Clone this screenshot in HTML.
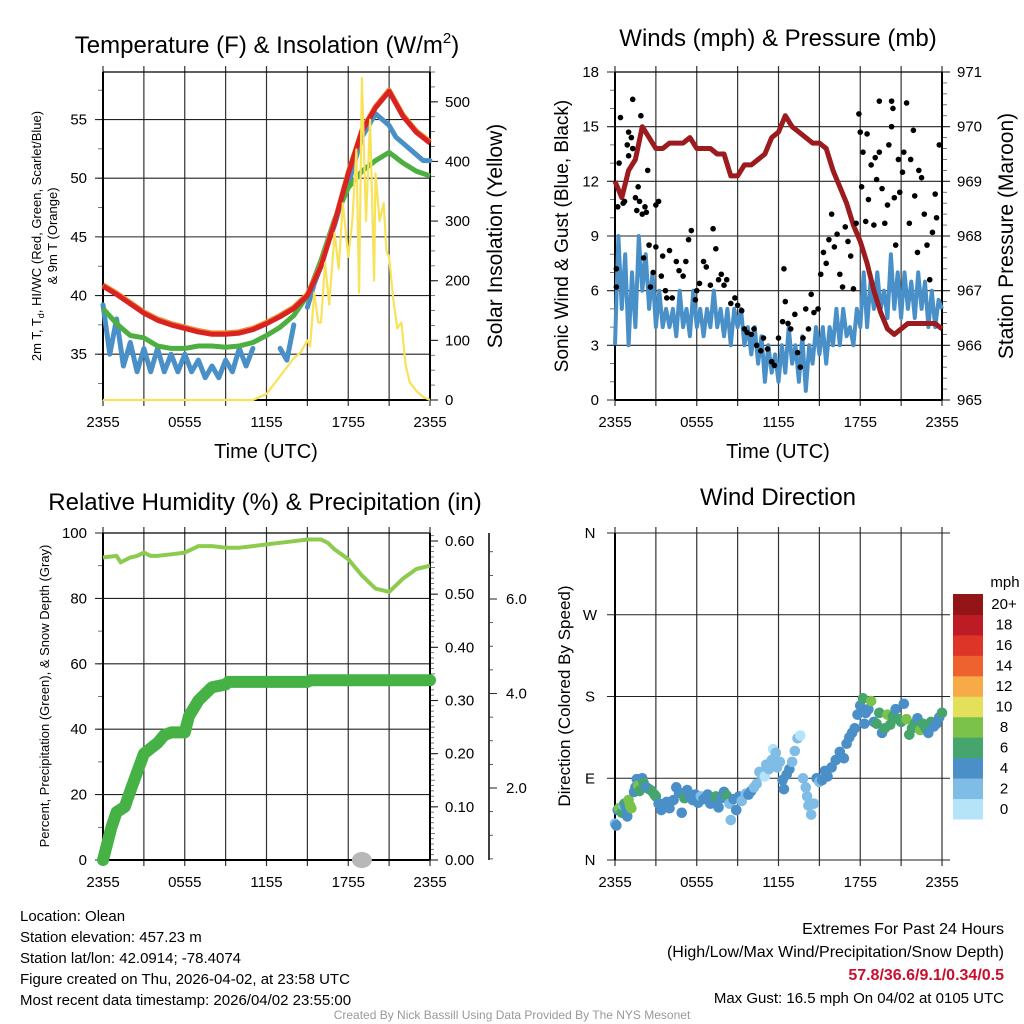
<!DOCTYPE html>
<html><head><meta charset="utf-8"><style>
html,body{margin:0;padding:0;background:#fff;}
svg{display:block;font-family:"Liberation Sans",Arial,sans-serif;}
</style></head><body>
<svg id="c" width="1024" height="1024" viewBox="0 0 1024 1024" xmlns="http://www.w3.org/2000/svg"></svg>
<script>
// ---------- DATA ----------
const xTickLabels = ["2355","0555","1155","1755","2355"];
// Panel 1 (hourly, t=0..24)
const tempRed = [40.8,40.1,39.3,38.5,37.9,37.5,37.2,36.9,36.7,36.7,36.8,37.1,37.6,38.2,38.9,40.0,42.5,46.2,50.4,54.0,56.0,57.4,55.3,53.9,53.0];
const dewGreen = [38.9,37.6,36.6,36.4,35.7,35.5,35.5,35.7,35.7,35.6,35.7,36.0,36.6,37.3,38.3,40.0,43.0,46.5,49.2,50.6,51.5,52.2,51.3,50.6,50.2];
// 30-min values
const wcBlue = [39.2,35.0,38.0,34.0,36.0,33.5,35.5,33.5,35.5,33.5,35.0,33.5,35.0,33.5,34.5,33.0,34.0,33.0,34.5,33.5,35.5,34.0,35.5,null,null,null,35.5,34.5,37.5,null,39.0,41.0,42.5,44.5,46.0,48.0,49.5,51.5,53.5,54.5,55.5,55.0,54.5,53.5,53.0,52.5,52.0,51.5,51.5];
const sunTimes = [0,11,12,13,14,14.5,15,15.2,15.5,15.8,16,16.3,16.6,17,17.3,17.6,18,18.3,18.6,18.8,19,19.3,19.6,19.9,20,20.3,20.6,20.8,21,21.3,21.6,21.9,22.2,22.5,23,23.5,24];
const sunValues = [0,0,10,40,70,80,100,90,180,130,130,230,160,280,220,330,240,300,420,180,540,300,470,200,380,300,330,250,240,170,120,130,60,30,15,5,0];
// Panel 2
const windBlue = [3,9,5,8,3,7,4,9,6, 8,5,7,4,6,4,5,4, 5,3.5,6,4,5,3.5,6,4, 5,3.5,5,4,6,4,5,3.5, 5,3,5,4,5,3,4,2.5, 4,2,3.5,1,3,1.5,2.5,1, 3,1.5,4,2,3,1,3.5,0.5, 3,2,4,2.5,4,2,4,3, 5,3,5,3.5,4,3,5,4, 7,4,6.5,5,7,5,6,4.5, 8,5,7,4.5,7,5,6.5,4.5, 7,5,6.5,4,6,4,5.5,5];
const pressure = [969.0,968.7,969.2,969.4,970.0,969.8,969.6,969.6,969.7,969.7,969.7,969.8,969.6,969.6,969.6,969.5,969.5,969.1,969.1,969.3,969.3,969.4,969.5,969.8,969.9,970.2,970.0,969.9,969.8,969.7,969.7,969.6,969.2,968.9,968.6,968.2,967.9,967.5,967.0,966.6,966.3,966.2,966.3,966.4,966.4,966.4,966.4,966.4,966.3];
const gustTimes = [0.1,0.1,0.2,0.3,0.4,0.6,0.7,0.9,1.0,1.0,1.2,1.3,1.3,1.5,1.6,1.7,1.8,1.9,2.0,2.2,2.3,2.4,2.1,2.5,2.6,2.8,3.0,3.0,3.2,3.4,3.5,3.7,3.8,4.0,4.2,4.5,4.7,5.0,5.2,5.4,5.6,5.9,6.0,6.2,6.5,6.7,7.0,7.2,7.4,7.6,7.8,8.0,8.2,8.5,8.8,9.0,9.3,9.5,9.7,10.0,10.2,10.4,10.7,10.9,11.2,11.5,11.7,12.0,12.3,12.4,12.5,12.7,12.9,13.2,13.4,13.6,13.8,14.0,14.2,14.4,14.6,14.9,15.1,15.3,15.5,15.7,15.9,16.1,16.3,16.5,16.7,16.9,17.1,17.3,17.5,17.7,17.9,18.0,18.1,18.2,18.4,18.5,18.6,18.8,19.0,19.1,19.2,19.4,19.4,19.6,19.8,20.0,20.1,20.3,20.3,20.4,20.5,20.6,20.8,20.9,21.1,21.2,21.4,21.6,21.7,21.9,22.0,22.2,22.3,22.5,22.7,22.9,23.1,23.3,23.5,23.6,23.8];
const gustValues = [6.2,7.2,10.6,13.0,15.5,10.8,10.9,14.0,14.7,13.4,14.4,16.5,13.8,11.1,10.4,11.7,10.9,15.6,10.2,10.6,10.3,12.6,7.8,8.5,6.2,7.0,8.4,10.7,10.9,6.8,7.9,6.0,5.6,8.2,5.6,7.6,7.1,6.8,7.6,8.8,9.3,5.5,6.0,6.4,7.6,7.3,6.3,9.4,8.3,6.6,6.9,6.3,6.6,5.3,5.6,5.2,4.9,3.9,3.7,3.6,3.9,3.0,2.7,3.4,2.8,2.1,1.9,3.4,4.3,7.2,5.4,4.2,3.9,4.7,2.6,1.8,3.4,5.0,3.9,5.8,4.8,5.0,6.9,8.1,7.5,8.8,10.2,8.4,9.1,6.9,6.2,9.5,8.7,7.9,6.1,9.7,15.7,14.7,11.7,13.6,9.8,14.6,11.0,12.9,9.6,13.3,12.1,16.4,13.6,11.6,9.7,10.7,14.0,15.0,16.4,16.0,11.1,8.5,13.2,11.4,12.5,13.6,16.3,9.7,13.2,14.8,11.2,8.1,12.6,12.2,10.2,8.5,6.6,9.2,11.3,10.0,14.0];
// Panel 3
const rhTimes = [0,1,1.3,2,2.5,3,3.5,4,5,6,6.5,7,8,9,10,11,12,13,14,15,16,16.5,17,18,19,20,20.5,21,22,23,24];
const rhValues = [92.5,93,91,92.5,93,94,93,93,93.5,94,95,96,96,95.5,95.5,96,96.5,97,97.5,98,98,97,95,92,87,83,82.5,82,86,89,90];
const precipTimes = [0,0.6,1,1.6,2,3,4,4.5,5,6,6.3,7,8,9,9.2,15,15.2,24];
const precipValues = [0,0.06,0.09,0.10,0.13,0.20,0.22,0.235,0.24,0.24,0.27,0.30,0.325,0.33,0.335,0.335,0.338,0.338];
const snowTimes = [19];
const snowValues = [0];
// Panel 4
const dirTimes = [0.0,0.1,0.2,0.3,0.5,0.6,0.7,0.8,0.9,1.0,1.1,1.2,1.4,1.5,1.6,1.7,1.8,2.0,2.1,2.3,2.5,2.7,2.9,3.0,3.2,3.4,3.6,3.8,4.0,4.3,4.5,4.7,4.9,5.1,5.3,5.5,5.7,5.9,6.1,6.3,6.5,6.8,7.0,7.2,7.4,7.6,7.8,8.0,8.2,8.4,8.5,8.7,8.9,9.1,9.3,9.6,9.8,10.0,10.2,10.4,10.6,10.8,11.0,11.1,11.3,11.5,11.6,11.8,11.9,12.1,12.3,12.4,12.6,12.8,13.0,13.2,13.4,13.6,13.8,14.0,14.1,14.2,14.4,14.6,14.8,15.0,15.2,15.4,15.6,15.9,16.2,16.5,16.8,17.0,17.2,17.4,17.6,17.8,18.0,18.2,18.3,18.4,18.6,18.8,19.0,19.2,19.4,19.6,19.8,20.0,20.2,20.4,20.6,20.8,21.0,21.2,21.4,21.6,21.8,22.0,22.2,22.4,22.6,22.8,23.0,23.2,23.4,23.6,23.8,24.0];
const dirDegrees = [40,38,55,57,52,60,62,58,48,66,60,57,75,80,89,82,76,90,85,80,78,76,72,70,62,55,62,64,57,66,80,74,52,68,77,70,66,72,63,70,67,72,62,65,70,58,68,75,71,62,44,67,55,70,65,73,72,76,80,84,97,93,92,105,100,110,122,118,102,108,88,78,94,100,108,120,134,137,90,80,70,60,50,62,90,86,88,98,92,102,110,119,112,128,135,140,145,160,170,178,150,162,166,175,152,150,162,140,145,160,149,158,166,155,152,172,155,138,145,150,156,143,150,145,140,152,147,150,157,162];
const dirSpeeds = [2,4,4,8,6,2,6,4,4,8,8,8,4,4,4,8,6,4,6,4,4,6,6,6,4,4,4,4,4,4,4,4,4,6,4,4,4,4,4,2,4,4,4,4,6,4,4,4,6,2,2,4,4,4,2,2,4,4,2,2,2,2,0,2,2,2,0,2,2,2,4,4,4,4,2,2,2,0,2,2,2,2,2,2,4,2,4,4,4,4,4,4,4,4,4,4,4,4,4,6,4,4,4,8,4,6,6,4,6,8,6,6,4,6,6,4,8,6,6,6,4,8,6,6,4,6,4,4,4,6];
const cbLabels = ["0","2","4","6","8","10","12","14","16","18","20+"];
const cbColors = ["#b5e4f8","#80bde6","#4a8fc8","#46a56c","#7bc24b","#e4e05b","#f6aa48","#ee6230","#dd3527","#bd1c24","#931518"];

// ---------- HELPERS ----------
const svg = document.getElementById('c');
const NS = "http://www.w3.org/2000/svg";
function mk(tag, attrs, parent){ const e=document.createElementNS(NS,tag); for(const k in attrs) e.setAttribute(k,attrs[k]); (parent||svg).appendChild(e); return e; }
function grp(name){ const g=mk('g',{});   return g; }
function txt(g,x,y,s,size,anchor,rot,fill,weight){
  const t=mk('text',{x:x,y:y,'font-size':size,'text-anchor':anchor||'middle',fill:fill||'#000'},g);
  if(weight) t.setAttribute('font-weight',weight);
  if(rot) t.setAttribute('transform','rotate('+rot+' '+x+' '+y+')');
  t.textContent=s; return t;
}
function ln(g,x1,y1,x2,y2,c,w){ return mk('line',{x1:x1,y1:y1,x2:x2,y2:y2,stroke:c||'#000','stroke-width':w||1},g); }
function pathFrom(pts){ let d='',pen=false; pts.forEach(p=>{ if(p==null){pen=false;return;} d+=(pen?'L':'M')+p[0].toFixed(1)+' '+p[1].toFixed(1); pen=true;}); return d; }

function panel(p,name){
  const g=grp(name+'-axes');
  for(let h=0;h<=24;h+=3){ const x=p.x0+h/24*(p.x1-p.x0); ln(g,x,p.y0-6,x,p.y1+6,'#333',1.2); }
  xTickLabels.forEach((s,i)=>{ const x=p.x0+i*6/24*(p.x1-p.x0); const t=txt(g,x,p.y1+27,s,15);   });
  return g;
}
function leftAxis(p,g,min,max,majors,minorStep,fmt,grid){
  const Y=v=>p.y1-(v-min)/(max-min)*(p.y1-p.y0);
  for(let v=Math.ceil(min/minorStep)*minorStep; v<=max+1e-9; v+=minorStep) ln(g,p.x0-5,Y(v),p.x0,Y(v),'#555',0.8);
  majors.forEach(v=>{ const y=Y(v); if(grid) ln(g,p.x0-8,y,p.x1,y,'#222',1.1); else ln(g,p.x0-8,y,p.x0,y,'#222',1.1);
    const t=txt(g,p.x0-16,y+5,fmt(v),15,'end');   });
  ln(g,p.x0,p.y0,p.x0,p.y1,'#000',2); ln(g,p.x0,p.y1,p.x1,p.y1,'#000',2);
  return Y;
}
function rightAxis(p,g,min,max,majors,minorStep,fmt,gx){
  const x=gx||p.x1;
  const Y=v=>p.y1-(v-min)/(max-min)*(p.y1-p.y0);
  for(let v=Math.ceil(min/minorStep-1e-9)*minorStep; v<=max+1e-9; v+=minorStep) ln(g,x,Y(v),x+5,Y(v),'#555',0.8);
  majors.forEach(v=>{ const y=Y(v); ln(g,x,y,x+8,y,'#222',1.1);
    const t=txt(g,x+15,y+5,fmt(v),15,'start');   });
  ln(g,x,p.y0,x,p.y1,'#000',2);
  return Y;
}

// ---------- PANEL 1 ----------
const P1={x0:103,x1:430,y0:72,y1:400};
const X1=t=>P1.x0+t/24*(P1.x1-P1.x0);
{
  const g=panel(P1,'temperature-panel');
  const Yt=leftAxis(P1,g,31.1,59.05,[35,40,45,50,55],2.5,v=>String(v),true);
  const Ys=rightAxis(P1,g,0,550,[0,100,200,300,400,500],25,v=>String(v));
  ln(g,P1.x0,P1.y0,P1.x1,P1.y0,'#000',1.2);
  const gl=grp('temperature-series');
  const pb=mk('path',{d:pathFrom(wcBlue.map((v,i)=>v==null?null:[X1(i*0.5),Yt(v)])),fill:'none',stroke:'#4a90c8','stroke-width':5,'stroke-linejoin':'round','stroke-linecap':'round'},gl);
   
  const pg=mk('path',{d:pathFrom(dewGreen.map((v,i)=>[X1(i),Yt(v)])),fill:'none',stroke:'#4caf3f','stroke-width':5,'stroke-linejoin':'round'},gl);
   
  const po=mk('path',{d:pathFrom(tempRed.map((v,i)=>[X1(i),Yt(v+0.12)])),fill:'none',stroke:'#f28b30','stroke-width':5,'stroke-linejoin':'round'},gl);
   
  const pr=mk('path',{d:pathFrom(tempRed.map((v,i)=>[X1(i),Yt(v)])),fill:'none',stroke:'#d92323','stroke-width':5,'stroke-linejoin':'round'},gl);
   
  const py=mk('path',{d:pathFrom(sunTimes.map((t,i)=>[X1(t),Ys(sunValues[i])])),fill:'none',stroke:'#f8e25a','stroke-width':2.2,'stroke-linejoin':'round'},gl);
   
  const gt=grp('temperature-labels');
  const tt=mk('text',{x:267,y:53,'font-size':24,'text-anchor':'middle'},gt); tt.innerHTML='Temperature (F) &amp; Insolation (W/m<tspan font-size="15" dy="-10">2</tspan><tspan dy="10">)</tspan>';
   
  const yl=mk('text',{x:41,y:236,'font-size':13,'text-anchor':'middle',transform:'rotate(-90 41 236)'},gt);
  yl.innerHTML='2m T, T<tspan font-size="9" dy="3">d</tspan><tspan dy="-3">, HI/WC (Red, Green, Scarlet/Blue)</tspan>';
   
  const yl2=txt(gt,57,236,'& 9m T (Orange)',13,'middle',-90);
   
  const yr=txt(gt,502,236,'Solar Insolation (Yellow)',21,'middle',-90);
   
  const xt=txt(gt,266,458,'Time (UTC)',20);
   
}

// ---------- PANEL 2 ----------
const P2={x0:615,x1:942,y0:72,y1:400};
const X2=t=>P2.x0+t/24*(P2.x1-P2.x0);
{
  const g=panel(P2,'wind-panel');
  const Yw=leftAxis(P2,g,0,18,[0,3,6,9,12,15,18],1,v=>String(v),true);
  const Yp=rightAxis(P2,g,965,971,[965,966,967,968,969,970,971],0.2,v=>String(v));
  ln(g,P2.x0,P2.y0,P2.x1,P2.y0,'#000',1.2);
  const gl=grp('wind-series');
  const n=windBlue.length;
  const pw=mk('path',{d:pathFrom(windBlue.map((v,i)=>[X2(i*24/(n-1)),Yw(v)])),fill:'none',stroke:'#4a90c8','stroke-width':4,'stroke-linejoin':'round'},gl);
   
  const gd=grp('gust-points');
  gustTimes.forEach((t,i)=>{ const c=mk('circle',{cx:X2(t),cy:Yw(gustValues[i]),r:2.8,fill:'#000'},gd);
    
     });
  const pp=mk('path',{d:pathFrom(pressure.map((v,i)=>[X2(i*0.5),Yp(v)])),fill:'none',stroke:'#9b1b1e','stroke-width':5,'stroke-linejoin':'round'},gl);
   
  const gt=grp('wind-labels');
  const t1=txt(gt,778,46,'Winds (mph) & Pressure (mb)',24);  
  const t2=txt(gt,568,236,'Sonic Wind & Gust (Blue, Black)',19,'middle',-90);  
  const t3=txt(gt,1013,236,'Station Pressure (Maroon)',21,'middle',-90);  
  const t4=txt(gt,778,458,'Time (UTC)',20);  
}

// ---------- PANEL 3 ----------
const P3={x0:103,x1:430,y0:533,y1:860};
const X3=t=>P3.x0+t/24*(P3.x1-P3.x0);
{
  const g=panel(P3,'humidity-panel');
  const Yr=leftAxis(P3,g,0,100,[0,20,40,60,80,100],10,v=>String(v),true);
  const Ypr=v=>P3.y1-v/0.6*(P3.y1-541);
  for(let i=0;i<=62;i++){ const v=i*0.01; if(Ypr(v)<P3.y0) break; ln(g,P3.x1,Ypr(v),P3.x1+(i%5==0?5:4),Ypr(v),'#555',0.8); }
  [0,0.1,0.2,0.3,0.4,0.5,0.6].forEach(v=>{ ln(g,P3.x1,Ypr(v),P3.x1+8,Ypr(v),'#222',1.1); const t=txt(g,P3.x1+15,Ypr(v)+5,v.toFixed(2),15,'start');   });
  ln(g,P3.x1,P3.y0,P3.x1,P3.y1,'#000',2);
  const sx=489; const Ysn=v=>882.5-v/2*94.5;
  ln(g,sx,P3.y0,sx,P3.y1,'#000',1.5);
  for(let v=0.5;v<=7;v+=0.5){ const y=Ysn(v); if(y<P3.y0||y>P3.y1) continue; ln(g,sx,y,sx+(v%2==0?8:4),y,'#333',v%2==0?1.1:0.8); }
  [2,4,6].forEach(v=>{ const t=txt(g,sx+17,Ysn(v)+5,v.toFixed(1),15,'start');   });
  ln(g,P3.x0,P3.y0,P3.x1,P3.y0,'#000',1.2);
  const gl=grp('humidity-series');
  snowTimes.forEach((t,i)=>{ const e=mk('ellipse',{cx:X3(t),cy:Ysn(snowValues[i])-22.5,rx:10,ry:8,fill:'#b8b8b8'},gl);
    
     });
  const prh=mk('path',{d:pathFrom(rhTimes.map((t,i)=>[X3(t),Yr(rhValues[i])])),fill:'none',stroke:'#8dcb4f','stroke-width':4,'stroke-linejoin':'round'},gl);
   
  const ppc=mk('path',{d:pathFrom(precipTimes.map((t,i)=>[X3(t),Ypr(precipValues[i])])),fill:'none',stroke:'#46b145','stroke-width':12,'stroke-linejoin':'round','stroke-linecap':'round'},gl);
   
  const gt=grp('humidity-labels');
  const t1=txt(gt,265,510,'Relative Humidity (%) & Precipitation (in)',24);  
  const t2=txt(gt,49,696,'Percent, Precipitation (Green), & Snow Depth (Gray)',13,'middle',-90);  
}

// ---------- PANEL 4 ----------
const P4={x0:615,x1:942,y0:533,y1:860};
const X4=t=>P4.x0+t/24*(P4.x1-P4.x0);
{
  const g=panel(P4,'wind-direction-panel');
  const Yd=v=>P4.y1-v/360*(P4.y1-P4.y0);
  ['N','E','S','W','N'].forEach((s,i)=>{ const y=Yd(i*90); ln(g,P4.x0-8,y,P4.x1+8,y,'#222',1.1); const t=txt(g,590,y+5,s,15,'middle');   });
  ln(g,P4.x0,P4.y0,P4.x0,P4.y1,'#000',2);
  const gd=grp('wind-direction-points');
  dirTimes.forEach((t,i)=>{ const b=Math.min(10,Math.floor(dirSpeeds[i]/2));
    const c=mk('circle',{cx:X4(t),cy:Yd(dirDegrees[i]),r:5.3,fill:cbColors[b]},gd);
    
     });
  const gc=grp('speed-colorbar');
  const bh=(819-594)/11;
  cbColors.forEach((col,i)=>{ const y=819-(i+1)*bh; const r=mk('rect',{x:953,y:y,width:30,height:bh+0.5,fill:col},gc);
    
    
    const t=txt(gc,1004,y+bh/2+5,cbLabels[i],15,'middle');   });
  const tm=txt(gc,1005,587,'mph',15,'middle');  
  const gt=grp('wind-direction-labels');
  const t1=txt(gt,778,505,'Wind Direction',24);  
  const t2=txt(gt,570,696,'Direction (Colored By Speed)',17,'middle',-90);  
}

// ---------- FOOTER ----------
{
  const g=grp('station-info');
  ['Location: Olean','Station elevation: 457.23 m','Station lat/lon: 42.0914; -78.4074','Figure created on Thu, 2026-04-02, at 23:58 UTC','Most recent data timestamp: 2026/04/02 23:55:00'].forEach((s,i)=>{
    const t=txt(g,20,921+i*21,s,15,'start');   });
  const g2=grp('extremes-summary');
  const a=txt(g2,1004,934,'Extremes For Past 24 Hours',16,'end');  
  const b=txt(g2,1004,957,'(High/Low/Max Wind/Precipitation/Snow Depth)',16,'end');  
  const c=txt(g2,1004,980,'57.8/36.6/9.1/0.34/0.5',16,'end','','#c8102e','bold');  
  const d=txt(g2,1004,1003,'Max Gust: 16.5 mph On 04/02 at 0105 UTC',15,'end');  
  const e=txt(g2,512,1019,'Created By Nick Bassill Using Data Provided By The NYS Mesonet',12,'middle','','#999');  
}
</script>
</body></html>
